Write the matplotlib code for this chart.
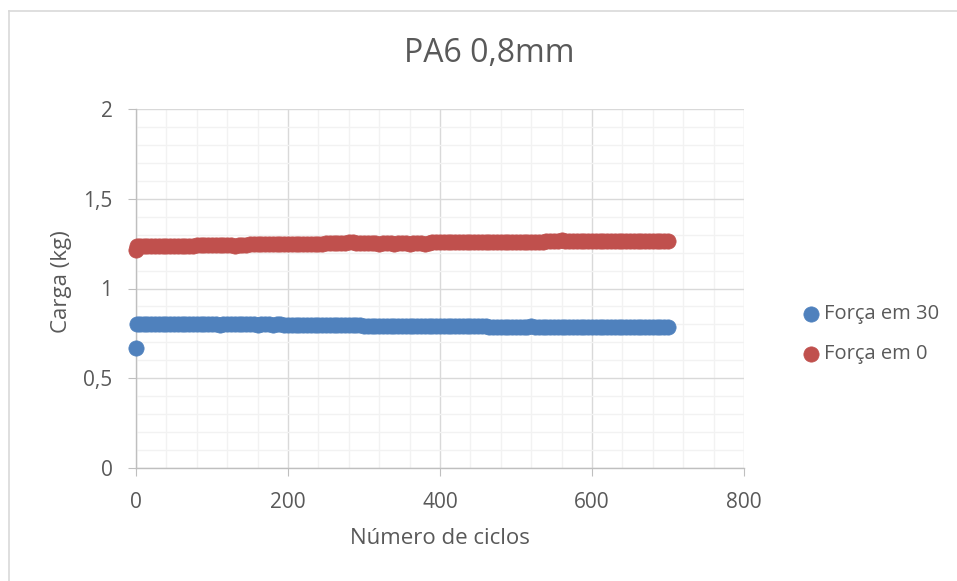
import matplotlib.pyplot as plt
from matplotlib.lines import Line2D
from matplotlib.ticker import MultipleLocator, FuncFormatter

plt.rcParams['font.family'] = ['Open Sans', 'DejaVu Sans']

# ciclos amostrados (0, 1 e depois de 5 em 5)
ciclos = [0, 1] + list(range(5, 701, 5))

forca_30 = [
    0.670, 0.800,
    0.801, 0.801, 0.801, 0.801, 0.801, 0.801, 0.801, 0.801, 0.801, 0.801,
    0.801, 0.801, 0.801, 0.801, 0.802, 0.802, 0.801, 0.801, 0.801, 0.801,
    0.800, 0.799, 0.801, 0.803, 0.802, 0.801, 0.800, 0.800, 0.801, 0.803,
    0.800, 0.797, 0.801, 0.804, 0.802, 0.799, 0.800, 0.801, 0.799, 0.797,
    0.797, 0.797, 0.797, 0.796, 0.796, 0.796, 0.795, 0.795, 0.795, 0.795,
    0.795, 0.795, 0.795, 0.795, 0.794, 0.794, 0.794, 0.794, 0.794, 0.793,
    0.793, 0.793, 0.793, 0.789, 0.791, 0.793, 0.792, 0.792, 0.792, 0.792,
    0.791, 0.789, 0.790, 0.791, 0.791, 0.791, 0.790, 0.790, 0.790, 0.790,
    0.790, 0.790, 0.790, 0.790, 0.789, 0.789, 0.790, 0.791, 0.789, 0.789,
    0.789, 0.789, 0.788, 0.788, 0.788, 0.788, 0.788, 0.788, 0.788, 0.788,
    0.788, 0.788, 0.788, 0.791, 0.788, 0.787, 0.787, 0.787, 0.787, 0.787,
    0.787, 0.787, 0.787, 0.787, 0.786, 0.786, 0.786, 0.786, 0.786, 0.786,
    0.786, 0.786, 0.786, 0.786, 0.786, 0.786, 0.785, 0.785, 0.785, 0.785,
    0.785, 0.785, 0.785, 0.785, 0.785, 0.785, 0.785, 0.785, 0.785, 0.785,
]

forca_0 = [
    1.214, 1.236,
    1.237, 1.237, 1.237, 1.238, 1.238, 1.238, 1.238, 1.238, 1.238, 1.239,
    1.239, 1.239, 1.239, 1.239, 1.239, 1.240, 1.240, 1.240, 1.241, 1.245,
    1.243, 1.242, 1.242, 1.244, 1.240, 1.236, 1.243, 1.245, 1.245, 1.246,
    1.246, 1.246, 1.246, 1.247, 1.247, 1.247, 1.247, 1.248, 1.248, 1.248,
    1.248, 1.249, 1.249, 1.249, 1.249, 1.250, 1.250, 1.250, 1.250, 1.251,
    1.251, 1.251, 1.251, 1.254, 1.256, 1.257, 1.257, 1.256, 1.255, 1.253,
    1.254, 1.255, 1.252, 1.250, 1.253, 1.254, 1.252, 1.250, 1.253, 1.255,
    1.252, 1.249, 1.253, 1.256, 1.252, 1.250, 1.255, 1.257, 1.258, 1.258,
    1.258, 1.258, 1.258, 1.259, 1.259, 1.259, 1.259, 1.259, 1.259, 1.260,
    1.260, 1.260, 1.260, 1.260, 1.260, 1.260, 1.260, 1.261, 1.261, 1.261,
    1.261, 1.261, 1.261, 1.261, 1.261, 1.261, 1.261, 1.262, 1.262, 1.262,
    1.263, 1.268, 1.263, 1.262, 1.262, 1.262, 1.262, 1.262, 1.262, 1.262,
    1.262, 1.262, 1.262, 1.262, 1.262, 1.262, 1.262, 1.262, 1.262, 1.262,
    1.262, 1.262, 1.262, 1.262, 1.262, 1.262, 1.262, 1.262, 1.262, 1.262,
]

azul = '#4F81BD'
vermelho = '#C0504D'
texto = '#595959'

W, H = 957, 581
fig = plt.figure(figsize=(W / 100, H / 100), dpi=100)
ax = fig.add_axes([136 / W, 1 - 468 / H, 608 / W, 359 / H])

ax.scatter(ciclos, forca_30, s=121, color=azul, edgecolors=azul, linewidths=0.5,
           zorder=3, clip_on=False, label='Força em 30')
ax.scatter(ciclos, forca_0, s=121, color=vermelho, edgecolors=vermelho, linewidths=0.5,
           zorder=3, clip_on=False, label='Força em 0')

ax.set_xlim(0, 800)
ax.set_ylim(0, 2)
ax.xaxis.set_major_locator(MultipleLocator(200))
ax.xaxis.set_minor_locator(MultipleLocator(40))
ax.yaxis.set_major_locator(MultipleLocator(0.5))
ax.yaxis.set_minor_locator(MultipleLocator(0.1))
ax.yaxis.set_major_formatter(FuncFormatter(lambda v, p: f'{v:g}'.replace('.', ',')))

ax.grid(which='major', color='#D9D9D9', lw=1)
ax.grid(which='minor', color='#F2F2F2', lw=1)
ax.set_axisbelow(True)

for lado in ('top', 'right'):
    ax.spines[lado].set_visible(False)
for lado in ('left', 'bottom'):
    ax.spines[lado].set_color('#BFBFBF')
    ax.spines[lado].set_linewidth(1)

ax.tick_params(which='major', length=6, color='#BFBFBF', labelcolor=texto, labelsize=15)
ax.tick_params(axis='y', pad=11)
ax.tick_params(axis='x', pad=11)
ax.tick_params(which='minor', length=0)

fig.text(489 / W, 1 - 54 / H, 'PA6 0,8mm', ha='center', va='center', fontsize=23, color=texto)
fig.text(440 / W, 1 - 538 / H, 'Número de ciclos', ha='center', va='center', fontsize=16, color=texto)
fig.text(62 / W, 1 - 282 / H, 'Carga (kg)', ha='center', va='center', rotation=90,
         fontsize=16, color=texto)

ax.legend(loc='center left', bbox_to_anchor=(791 / W, 1 - 334 / H), bbox_transform=fig.transFigure,
          frameon=False, fontsize=14.5, labelcolor=texto, handletextpad=0.15, labelspacing=1.0,
          borderpad=0, handlelength=1.0)

# moldura do gráfico
fig.add_artist(Line2D([9 / W, 1], [1 - 11 / H, 1 - 11 / H], color='#D9D9D9', lw=1.2))
fig.add_artist(Line2D([9 / W, 9 / W], [1 - 11 / H, 0], color='#D9D9D9', lw=1.2))

fig.savefig('out.png', dpi=100)
